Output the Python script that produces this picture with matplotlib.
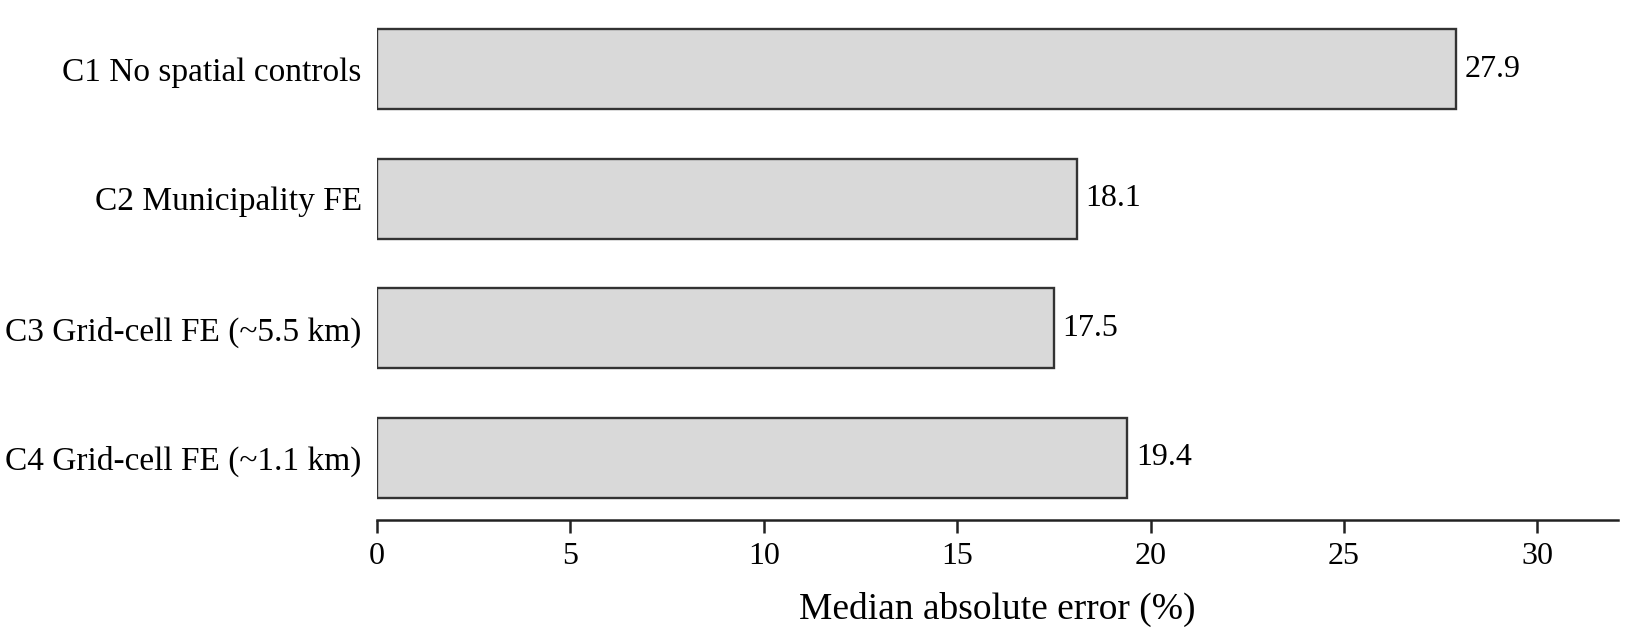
import matplotlib
matplotlib.use("Agg")
import matplotlib.pyplot as plt

categories = ["C1 No spatial controls", "C2 Municipality FE",
              "C3 Grid-cell FE (~5.5 km)", "C4 Grid-cell FE (~1.1 km)"]
values = [27.9, 18.1, 17.5, 19.4]
xticks = [0, 5, 10, 15, 20, 25, 30]

plt.rcParams['font.family'] = ['Liberation Serif', 'DejaVu Serif']

fig = plt.figure(figsize=(16.28, 6.36), dpi=100)
ax = fig.add_axes([377/1628, 1 - 520/636, (1618-377)/1628, (520-7)/636])

y = list(range(len(categories)))
ax.barh(y, values, height=0.62, color="#d9d9d9", edgecolor="#333333", linewidth=1.7)
ax.set_yticks(y)
ax.set_yticklabels(categories, fontsize=24)
ax.set_ylim(3.48, -0.48)
ax.set_xlim(0, max(values) * 1.15)
ax.set_xticks(xticks)
ax.set_xticklabels([str(t) for t in xticks], fontsize=23)

for yi, v in zip(y, values):
    ax.text(v + 0.22, yi, f"{v:.1f}", va="center", ha="left", fontsize=23)

for s in ["top", "right", "left"]:
    ax.spines[s].set_visible(False)
ax.spines["bottom"].set_linewidth(1.8)
ax.spines["bottom"].set_color("#222222")
ax.tick_params(axis="y", length=0, pad=11)
ax.tick_params(axis="x", length=9, width=1.8, color="#222222", pad=7)
ax.set_xlabel("Median absolute error (%)", fontsize=27, labelpad=15)

fig.savefig("out.png", dpi=100)
